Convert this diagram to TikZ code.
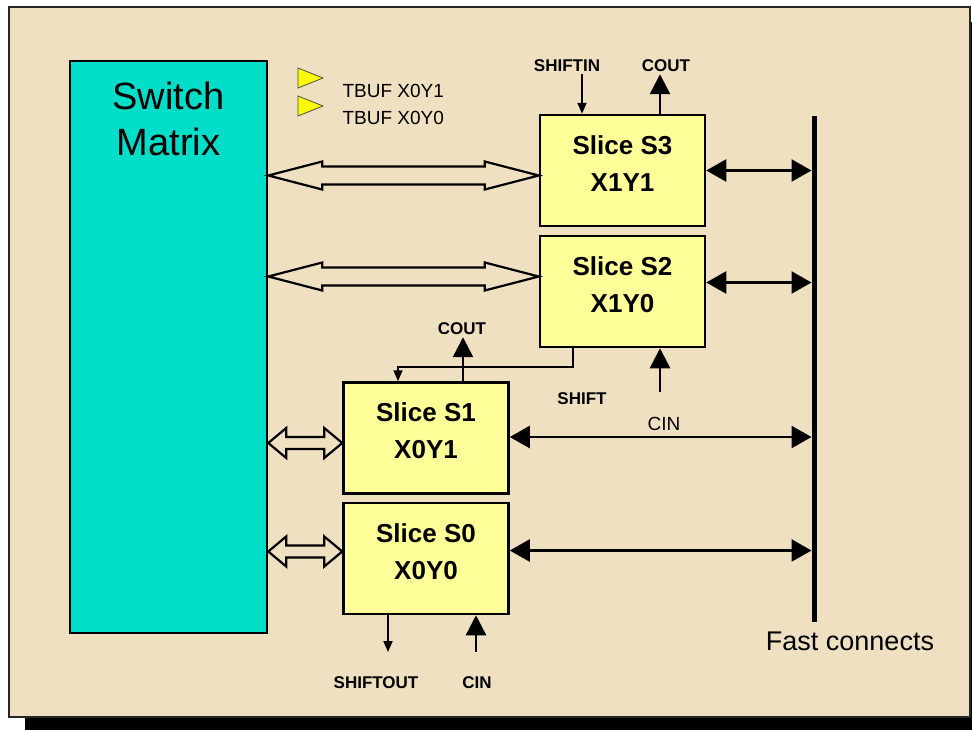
\documentclass[tikz,border=0pt]{standalone}
\usepackage{fontspec}
\setmainfont{Liberation Sans}
\usetikzlibrary{arrows.meta, calc}
\definecolor{papel}{RGB}{238,224,192}
\definecolor{ciano}{RGB}{0,221,200}
\definecolor{fatia}{RGB}{255,255,153}
\definecolor{tbufy}{RGB}{250,250,0}
\newcommand{\fatlink}[5]{%
  \draw[fatarrow] let \p1=#1, \p2=#2 in
    (\x1,\y2) -- (\x1+#5,\y2+#4) -- (\x1+#5,\y2+#3) -- (\x2-#5,\y2+#3)
    -- (\x2-#5,\y2+#4) -- (\x2,\y2) -- (\x2-#5,\y2-#4) -- (\x2-#5,\y2-#3)
    -- (\x1+#5,\y2-#3) -- (\x1+#5,\y2-#4) -- cycle;}

\begin{document}
\begin{tikzpicture}[x=1pt, y=-1pt,
    slice/.style={draw, line width=2.5pt, fill=fatia, minimum width=165pt,
      minimum height=111pt, align=center, text depth=14pt,
      font=\fontsize{26}{37}\selectfont\bfseries},
    pinlbl/.style={font=\fontsize{17}{20}\selectfont\bfseries, inner sep=2pt},
    bigarr/.style={-{Triangle[length=20pt, width=20pt]}, line width=2.5pt},
    thinarr/.style={-{Triangle[length=11pt, width=9pt]}, line width=1.8pt},
    fastarr/.style={{Triangle[length=20pt, width=22pt]}-{Triangle[length=20pt, width=22pt]},
      line width=2.5pt, shorten >=2.5pt},
    fatarrow/.style={draw, line width=2.2pt, fill=papel, line join=miter},
    tbuf/.style={draw=black!70, fill=tbufy, line width=0.8pt}]
  \useasboundingbox (0,0) rectangle (972,729);
  \fill[black] (25,22) rectangle (990,740);
  \draw[line width=2pt, draw=black!85, fill=papel] (9,7) rectangle (970,717);

  \node[draw, line width=2.5pt, fill=ciano, minimum width=197pt,
        minimum height=572pt] (sm) at (168.5,347) {};
  \node[anchor=north, align=center, font=\fontsize{38}{46}\selectfont]
    (smtxt) at ([yshift=-19pt]sm.north) {Switch\\Matrix};

  \draw[tbuf] (298,68) -- (323,78) -- (298,88) -- cycle;
  \draw[tbuf] (298,96) -- (323,106) -- (298,116) -- cycle;
  \node[anchor=west, font=\fontsize{19}{20}\selectfont] (tb1) at (339,91) {TBUF X0Y1};
  \node[anchor=west, font=\fontsize{19}{20}\selectfont] (tb0) at (339,118) {TBUF X0Y0};

  \node[slice] (s3) at (622.5,170.5) {Slice S3\\X1Y1};
  \node[slice] (s2) at (622.5,291.5) {Slice S2\\X1Y0};
  \node[slice] (s1) at (426,438) {Slice S1\\X0Y1};
  \node[slice] (s0) at (426,558.5) {Slice S0\\X0Y0};

  \coordinate (bustop) at (814,116);
  \coordinate (busbot) at (814,622);
  \draw[line width=5pt] (bustop) -- (busbot);
  \node[font=\fontsize{27}{30}\selectfont] (fc) at (850,641) {Fast connects};

  \fatlink{(sm.east)}{([yshift=-5pt]s3.west)}{9pt}{14pt}{54pt}
  \fatlink{(sm.east)}{([yshift=15pt]s2.west)}{9pt}{14pt}{54pt}
  \fatlink{(sm.east)}{([yshift=-5pt]s1.west)}{6pt}{15pt}{18pt}
  \fatlink{(sm.east)}{([yshift=7pt]s0.west)}{6pt}{15pt}{18pt}

  \coordinate (f3) at (s3.east);
  \coordinate (f2) at ([yshift=9pt]s2.east);
  \coordinate (f1) at ([yshift=1pt]s1.east);
  \coordinate (f0) at ([yshift=8pt]s0.east);
  \draw[fastarr] (f3) -- (f3 -| bustop);
  \draw[fastarr] (f2) -- (f2 -| bustop);
  \draw[fastarr] (f1) -- (f1 -| bustop);
  \draw[fastarr] (f0) -- (f0 -| bustop);
  \node[font=\fontsize{19}{22}\selectfont] (cin1) at (664,424) {CIN};

  \node[pinlbl] (shiftin) at (567,66) {SHIFTIN};
  \node[pinlbl] (cout3) at (666,66) {COUT};
  \coordinate (s3sh) at ([xshift=-40.5pt]s3.north);
  \coordinate (s3co) at ([xshift=37.5pt]s3.north);
  \draw[thinarr] (s3sh |- shiftin.south) -- (s3sh);
  \draw[bigarr] (s3co) -- (s3co |- cout3.south);

  \coordinate (s2sh) at ([xshift=-49.5pt]s2.south);
  \coordinate (s2ci) at ([xshift=37.5pt]s2.south);
  \coordinate (s1sh) at ([xshift=-28pt]s1.north);
  \coordinate (cin2) at (s2ci |- 0,392);
  \draw[line width=1.8pt, -{Triangle[length=11pt, width=9pt]}] (s2sh) -- ++(0,19) -| (s1sh);
  \draw[bigarr] (cin2) -- (s2ci);
  \node[pinlbl] (shift) at (582,399) {SHIFT};

  \node[pinlbl] (cout1) at (462,329) {COUT};
  \coordinate (s1co) at ([xshift=37pt]s1.north);
  \draw[bigarr] (s1co) -- (s1co |- cout1.south);

  \node[pinlbl] (shiftout) at (376,683) {SHIFTOUT};
  \node[pinlbl] (cin0) at (477,683) {CIN};
  \coordinate (s0sh) at ([xshift=-38pt]s0.south);
  \coordinate (s0ci) at ([xshift=50pt]s0.south);
  \draw[thinarr] (s0sh) -- (s0sh |- 0,652);
  \draw[bigarr] (s0ci |- 0,652) -- (s0ci);
\end{tikzpicture}
\end{document}
